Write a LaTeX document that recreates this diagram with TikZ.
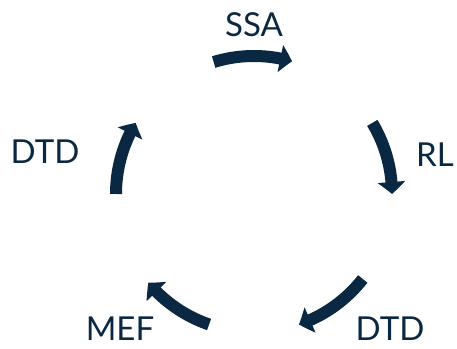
\documentclass[tikz,border=0pt]{standalone}
\usepackage{fontspec}
\setmainfont{Lato}
\usetikzlibrary{arrows.meta,bending,calc}
\definecolor{navy}{RGB}{10,40,65}
\begin{document}
\begin{tikzpicture}[x=1pt,y=1pt,
  cyc/.style={draw=navy,line width=12pt,-{Triangle[width=27pt,length=12pt,bend]}},
  lbl/.style={text=navy,font=\fontsize{33}{38}\selectfont,inner sep=0pt}]
\useasboundingbox (0,0) rectangle (457,348);
\coordinate (c) at (254,154);
\foreach \a/\b in {107/74, 31/0, -38/-71, -109/-140, 180/149}{
  \draw[cyc] ($(c)+(\a:138)$) arc[start angle=\a,end angle=\b,radius=138];
}
\node[lbl] (ssa) at (254,323) {SSA};
\node[lbl] (rl) at (435,193) {RL};
\node[lbl] (dtdr) at (390,19) {DTD};
\node[lbl] (mef) at (120,19) {MEF};
\node[lbl] (dtdl) at (45,196) {DTD};
\end{tikzpicture}
\end{document}
